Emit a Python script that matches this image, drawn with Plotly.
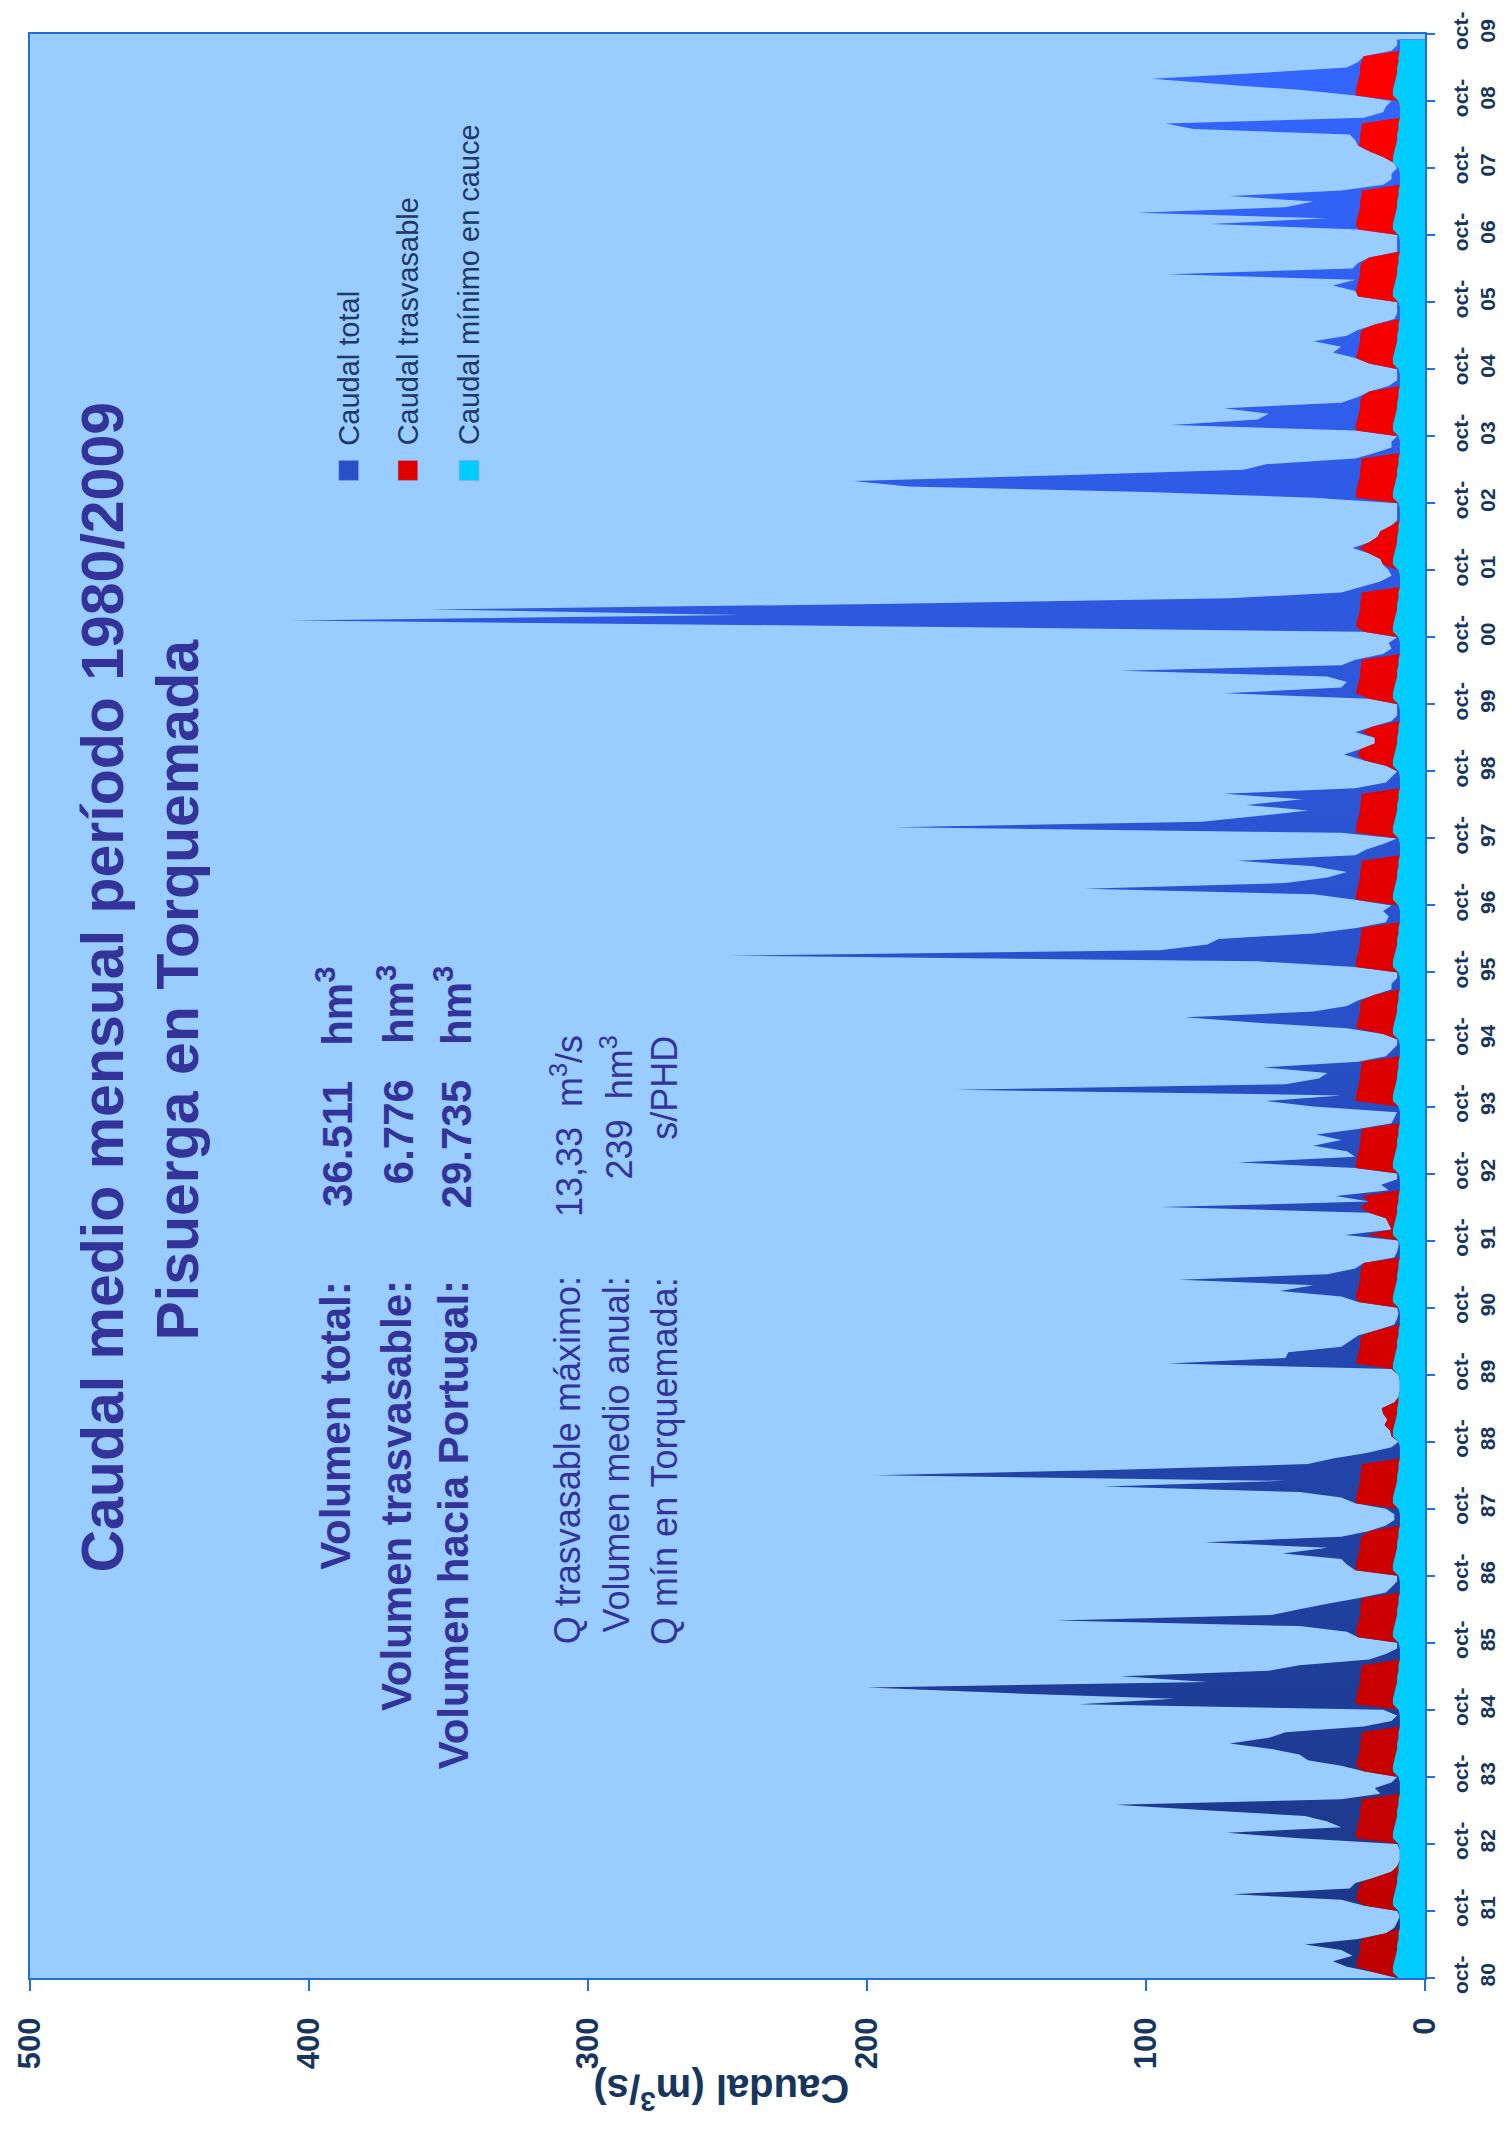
import plotly.graph_objects as go

# Monthly mean flow, Pisuerga at Torquemada, hydrological years Oct-1980 .. Sep-2009 (m3/s)
anios = ["80", "81", "82", "83", "84", "85", "86", "87", "88", "89", "90", "91", "92", "93",
         "94", "95", "96", "97", "98", "99", "00", "01", "02", "03", "04", "05", "06", "07",
         "08", "09"]

# Caudal total, one row per hydrological year (Oct..Sep)
caudal_total = [
    [10, 18, 28, 33, 26, 30, 43, 24, 14, 11, 10, 9],        # 80-81
    [10, 22, 30, 69, 27, 25, 18, 12, 10, 9, 9, 9],          # 81-82
    [10, 45, 71, 30, 35, 43, 77, 111, 30, 16, 18, 12],      # 82-83
    [10, 22, 30, 42, 45, 55, 70, 56, 50, 22, 12, 10],       # 83-84
    [15, 124, 90, 150, 200, 78, 109, 56, 45, 20, 14, 10],   # 84-85
    [10, 24, 28, 45, 132, 55, 45, 35, 24, 14, 12, 10],      # 85-86
    [10, 25, 28, 30, 51, 35, 79, 30, 20, 14, 11, 11],       # 86-87
    [14, 25, 30, 45, 115, 50, 197, 110, 42, 33, 21, 12],    # 87-88
    [9.5, 12, 12.5, 14.5, 13.5, 15, 15.5, 11, 9.5, 9, 9, 9],  # 88-89
    [9.5, 12, 92, 50, 49, 30, 27, 24, 17, 11, 10, 9.5],     # 89-90
    [10, 24, 30, 52, 40, 88, 35, 25, 22, 11, 10, 9.5],      # 90-91
    [9.5, 28.6, 12, 13, 14, 20, 94.5, 20, 32, 13, 15.7, 10],  # 91-92
    [10, 25, 67, 25, 28, 40, 30, 39, 24, 12, 11, 10],       # 92-93
    [40, 57, 30, 168, 50, 38, 35, 58, 24, 14, 12, 10],      # 93-94
    [10, 15, 28, 60, 86, 40, 28, 24, 18, 12, 12, 10],       # 94-95
    [10, 25, 60, 250, 95, 78, 74, 40, 24, 14, 13, 15],      # 95-96
    [12, 25, 40, 122, 50, 35, 28, 40, 67, 25, 21, 15],      # 96-97
    [10, 30, 190, 80, 60, 42, 64, 44, 72, 25, 14, 12],      # 97-98
    [10, 14, 22, 29, 23, 18, 18, 25, 19, 12, 10, 10],       # 98-99
    [10, 20, 72, 30, 28, 35, 109, 30, 25, 15, 12, 13],      # 99-00
    [10, 22, 200, 406, 246, 356, 190, 70, 30, 23, 16, 12],  # 00-01
    [13, 15, 16, 20, 26, 20, 17, 16, 12, 10, 10, 10],       # 01-02
    [10, 40, 100, 185, 205, 130, 65, 57, 25, 18, 12, 12],   # 02-03
    [10, 25, 91, 60, 56, 72, 30, 24, 20, 13, 10, 10],       # 03-04
    [10, 20, 25, 33, 30, 40, 28, 24, 18, 11, 10, 10],       # 04-05
    [10, 24, 25, 33, 25, 92, 26, 24, 20, 10, 10, 10],       # 05-06
    [10, 24, 77, 35, 103, 50, 40, 70, 30, 15, 12, 12],      # 06-07
    [10, 11, 15, 20, 24, 25, 27, 83, 93, 22, 15, 14],       # 07-08
    [12, 25, 45, 73, 98, 60, 28, 24, 22, 12, 10, 10],       # 08-09
]

# Caudal trasvasable (upper edge of the transferable band), Oct..Sep
caudal_trasvasable = [
    [9.5, 18, 24.8, 24.3, 23.8, 23.3, 23.3, 22.8, 14, 9, 9, 9],
    [9.5, 22, 24.8, 24.3, 23.8, 23.3, 18, 12, 10, 9, 9, 9],
    [9.5, 24.8, 24.8, 24.3, 23.8, 23.3, 23.3, 22.8, 22.8, 9, 9, 9],
    [9.5, 22, 24.8, 24.3, 23.8, 23.3, 23.3, 22.8, 22.8, 9, 9, 9],
    [9.5, 24.8, 24.8, 24.3, 23.8, 23.3, 23.3, 22.8, 22.8, 9, 9, 9],
    [9.5, 24, 24.8, 24.3, 23.8, 23.3, 23.3, 22.8, 22.8, 9, 9, 9],
    [9.5, 24.8, 24.8, 24.3, 23.8, 23.3, 23.3, 22.8, 20, 9, 9, 9],
    [9.5, 24.8, 24.8, 24.3, 23.8, 23.3, 23.3, 22.8, 22.8, 9, 9, 9],
    [9.5, 12, 12.5, 14.5, 13.5, 15, 15.5, 11, 9.5, 9, 9, 9],
    [9.5, 12, 24.8, 24.3, 23.8, 23.3, 23.3, 22.8, 17, 9, 9, 9],
    [9.5, 24, 24.8, 24.3, 23.8, 23.3, 23.3, 22.8, 22, 9, 9, 9],
    [9.5, 21, 12, 13, 14, 20, 23.3, 20, 22.8, 9, 9, 9],
    [9.5, 24.8, 24.8, 24.3, 23.8, 23.3, 23.3, 22.8, 22.8, 9, 9, 9],
    [9.5, 24.8, 24.8, 24.3, 23.8, 23.3, 23.3, 22.8, 22.8, 9, 9, 9],
    [9.5, 15, 24.8, 24.3, 23.8, 23.3, 23.3, 22.8, 18, 9, 9, 9],
    [9.5, 24.8, 24.8, 24.3, 23.8, 23.3, 23.3, 22.8, 22.8, 9, 9, 9],
    [9.5, 24.8, 24.8, 24.3, 23.8, 23.3, 23.3, 22.8, 22.8, 9, 9, 9],
    [9.5, 24.8, 24.8, 24.3, 23.8, 23.3, 23.3, 22.8, 22.8, 9, 9, 9],
    [9.5, 14, 22, 24.3, 23, 18, 18, 22.8, 19, 9, 9, 9],
    [9.5, 20, 24.8, 24.3, 23.8, 23.3, 23.3, 22.8, 22.8, 9, 9, 9],
    [9.5, 22, 24.8, 24.3, 23.8, 23.3, 23.3, 22.8, 22.8, 9, 9, 9],
    [9.5, 15, 16, 20, 23.8, 20, 17, 16, 12, 9, 9, 9],
    [9.5, 24.8, 24.8, 24.3, 23.8, 23.3, 23.3, 22.8, 22.8, 9, 9, 9],
    [9.5, 24.8, 24.8, 24.3, 23.8, 23.3, 23.3, 22.8, 20, 9, 9, 9],
    [9.5, 20, 24.8, 24.3, 23.8, 23.3, 23.3, 22.8, 18, 9, 9, 9],
    [9.5, 24, 24.8, 24.3, 23.8, 23.3, 23.3, 22.8, 20, 9, 9, 9],
    [9.5, 24, 24.8, 24.3, 23.8, 23.3, 23.3, 22.8, 22.8, 9, 9, 9],
    [9.5, 11.5, 15, 20, 23.8, 23.3, 23.3, 22.8, 22.8, 9, 9, 9],
    [9.5, 24.8, 24.8, 24.3, 23.8, 23.3, 23.3, 22.8, 22, 9, 9, 9],
]

# Caudal minimo en cauce: monthly regime (Oct..Sep), identical every year
regimen_minimo = [9.5, 11.5, 11.5, 11, 10.5, 10, 10, 9.5, 9.5, 9, 9, 9]

total = [v for anio in caudal_total for v in anio]
trasvasable = [v for anio in caudal_trasvasable for v in anio]
minimo = regimen_minimo * len(caudal_total)
meses = list(range(len(total)))

# plot-area frame in page pixels
L, R, T, B = 24, 1438, 27, 1978
W, H = R - L, B - T


def px(x):
    return (x - L) / W


def py(y):
    return (B - y) / H


TXT = "#333399"
NAVY = "#17365D"
FONT = "Liberation Sans, Arial, sans-serif"
NB = "\u00a0"

fig = go.Figure()
fig.add_trace(go.Scatter(
    x=total, y=meses, mode="none", fill="tozerox", name="Caudal total",
    fillgradient=dict(type="vertical", colorscale=[[0, "#1B3684"], [0.5, "#2950C8"], [1, "#3366FF"]]),
))
fig.add_trace(go.Scatter(
    x=trasvasable, y=meses, mode="none", fill="tozerox", name="Caudal trasvasable",
    fillgradient=dict(type="vertical", colorscale=[[0, "#C00000"], [1, "#FF0000"]]),
))
fig.add_trace(go.Scatter(
    x=minimo, y=meses, mode="none", fill="tozerox", name="Caudal mínimo en cauce",
    fillcolor="#00CCFF",
))

ticks_meses = list(range(0, len(total) + 1, 12))
fig.update_layout(
    width=1512, height=2134, autosize=False,
    margin=dict(l=L, r=1512 - R, t=T, b=2134 - B, pad=0),
    paper_bgcolor="white", plot_bgcolor="#99CCFF",
    showlegend=False,
    font=dict(family=FONT, color=NAVY),
    xaxis=dict(
        range=[500, 0], tickvals=[0, 100, 200, 300, 400, 500], ticks="outside", ticklen=11,
        tickcolor="#1F6FD6", tickwidth=2, tickangle=-90, ticklabelstandoff=14,
        tickfont=dict(family=FONT, size=31, color=NAVY, weight="bold"),
        showline=True, linecolor="#1F6FD6", linewidth=2, mirror=True,
        showgrid=False, zeroline=False,
    ),
    yaxis=dict(
        range=[0, len(total)], side="right", tickvals=ticks_meses,
        ticktext=["oct-<br>" + a for a in anios],
        ticks="outside", ticklen=8, tickcolor="#1F6FD6", tickwidth=2, tickangle=-90,
        ticklabelstandoff=8,
        tickfont=dict(family=FONT, size=21, color=NAVY, weight="bold"),
        showline=True, linecolor="#1F6FD6", linewidth=2, mirror=True,
        showgrid=False, zeroline=False,
    ),
)

ann = []


def texto(t, x, y, size, bold=False, color=TXT, angle=-90, xa="center", ya="middle"):
    ann.append(dict(
        text=t, x=px(x), y=py(y), xref="paper", yref="paper", showarrow=False,
        textangle=angle, xanchor=xa, yanchor=ya,
        font=dict(family=FONT, size=size, color=color, weight="bold" if bold else "normal"),
    ))


# title
texto("Caudal medio mensual período 1980/2009", 98, 984, 59, bold=True)
texto("Pisuerga en Torquemada", 174, 986, 59, bold=True)

# volumes
for xc, lab, val in [(333, "Volumen total:", "36.511" + NB * 3 + "hm<sup>3</sup>"),
                     (395, "Volumen trasvasable:", "6.776" + NB * 3 + "hm<sup>3</sup>"),
                     (453, "Volumen hacia Portugal:", "29.735" + NB * 3 + "hm<sup>3</sup>")]:
    texto(lab, xc, 1276, 42, bold=True, ya="top")
    texto(val, xc, 960, 42, bold=True, ya="top")

for xc, lab, val in [(569, "Q trasvasable máximo:", "13,33" + NB * 2 + "m<sup>3</sup>/s"),
                     (619, "Volumen medio anual:", "239" + NB * 2 + "hm<sup>3</sup>"),
                     (667, "Q mín en Torquemada:", "s/PHD")]:
    texto(lab, xc, 1272, 36, ya="top")
    texto(val, xc, 1030, 36, ya="top")

# legend
for xc, lab, col in [(347, "Caudal total", "#2850C8"),
                     (407, "Caudal trasvasable", "#E00000"),
                     (469, "Caudal mínimo en cauce", "#00CCFF")]:
    texto(lab, xc, 442, 29, color="#1F3864", ya="bottom")
    fig.add_shape(type="rect", xref="paper", yref="paper",
                  x0=px(xc - 10), x1=px(xc + 10), y0=py(475), y1=py(455),
                  fillcolor=col, line=dict(width=0.5, color="#9999CC"))

# value-axis title (upside down)
texto("Caudal (m<sup>3</sup>/s)", 725, 2093, 40, bold=True, color=NAVY, angle=180)

fig.update_layout(annotations=ann)
fig.write_html("out.html")
